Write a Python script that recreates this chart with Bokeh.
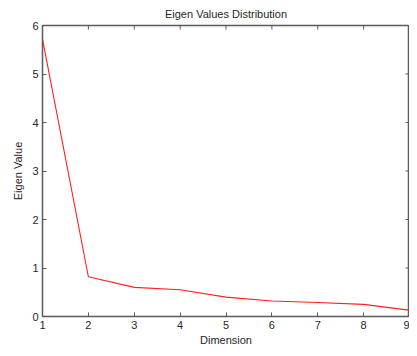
import math
from bokeh.plotting import figure
from bokeh.models import Range1d, FixedTicker
from bokeh.embed import file_html
from bokeh.resources import INLINE

dimension = [1, 2, 3, 4, 5, 6, 7, 8, 9]
eigen_values = [5.72, 0.82, 0.60, 0.55, 0.40, 0.32, 0.29, 0.25, 0.13]
x_ticks = [1, 2, 3, 4, 5, 6, 7, 8, 9]
y_ticks = [0, 1, 2, 3, 4, 5, 6]

FONT = "Liberation Sans"
TXT = "#262626"
AX = "#5a5a5a"

p = figure(width=409, height=348, output_backend="svg", toolbar_location=None,
           x_range=Range1d(1, 9), y_range=Range1d(0, 6),
           title="Eigen Values Distribution",
           min_border_left=42, min_border_right=0, min_border_top=24, min_border_bottom=10)
p.title.align = "center"
p.title.text_font = FONT
p.title.text_font_size = "11px"
p.title.text_font_style = "normal"
p.title.text_color = TXT
p.title.standoff = 11
p.grid.visible = False
p.outline_line_color = AX
p.outline_line_width = 1.5
p.background_fill_color = "white"
p.border_fill_color = "white"

p.line(dimension, eigen_values, line_color="#ff2020", line_width=1.1)

# inner ticks on the top and right edges
p.ray(x=x_ticks, y=[6] * len(x_ticks), length=4, length_units="screen",
      angle=-math.pi / 2, line_color=AX, line_width=1)
p.ray(x=[9] * len(y_ticks), y=y_ticks, length=4, length_units="screen",
      angle=math.pi, line_color=AX, line_width=1)

for ax in (p.xaxis[0], p.yaxis[0]):
    ax.major_tick_in = 4
    ax.major_tick_out = 0
    ax.minor_tick_in = 0
    ax.minor_tick_out = 0
    ax.axis_line_color = AX
    ax.major_tick_line_color = AX
    ax.major_label_text_font = FONT
    ax.major_label_text_font_size = "11px"
    ax.major_label_text_color = TXT
    ax.axis_label_text_font = FONT
    ax.axis_label_text_font_size = "11px"
    ax.axis_label_text_font_style = "normal"
    ax.axis_label_text_color = TXT
    ax.major_label_standoff = 4
    ax.axis_label_standoff = 2

p.yaxis[0].axis_label_standoff = 5
p.xaxis[0].ticker = FixedTicker(ticks=x_ticks)
p.yaxis[0].ticker = FixedTicker(ticks=y_ticks)
p.xaxis[0].axis_label = "Dimension"
p.yaxis[0].axis_label = "Eigen Value"

open("out.html", "w").write(file_html(p, INLINE))
